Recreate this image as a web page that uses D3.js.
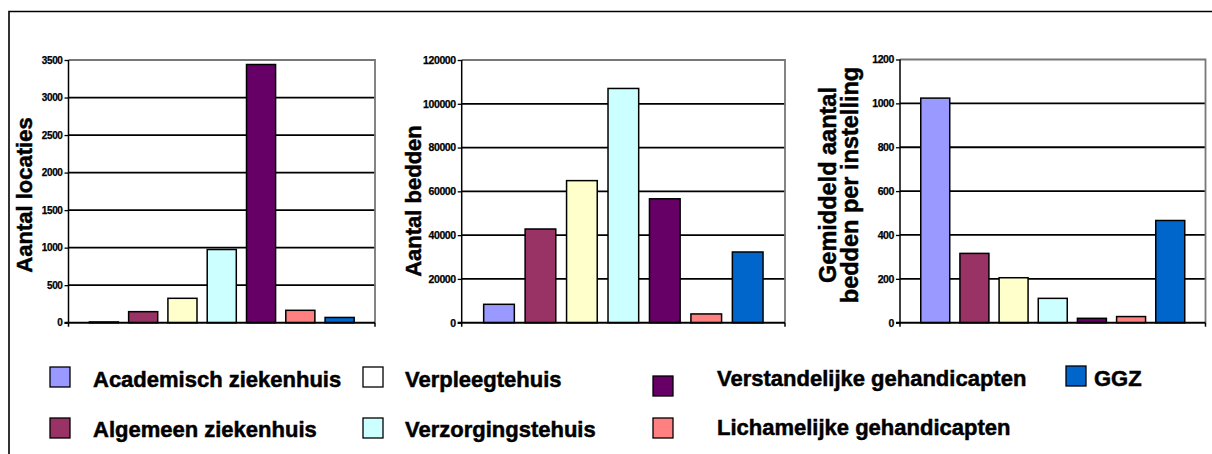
<!DOCTYPE html>
<html>
<head>
<meta charset="utf-8">
<script src="https://cdn.jsdelivr.net/npm/d3@7"></script>
<style>
  html, body { margin: 0; padding: 0; background: #fff; }
  svg { display: block; }
  text { font-family: "Liberation Sans", Arial, sans-serif; font-weight: bold; fill: #000; }
</style>
</head>
<body>
<svg id="chart" width="1212" height="454"></svg>
<script>
// ---- data ----
const categories = [
  "Academisch ziekenhuis",
  "Algemeen ziekenhuis",
  "Verpleegtehuis",
  "Verzorgingstehuis",
  "Verstandelijke gehandicapten",
  "Lichamelijke gehandicapten",
  "GGZ"
];
const colors = ["#9999FF", "#993366", "#FFFFCC", "#CCFFFF", "#660066", "#FF8080", "#0066CC"];
const legendColors = ["#9999FF", "#993366", "#FFFFFF", "#CCFFFF", "#660066", "#FF8080", "#0066CC"];

const aantalLocaties = [10, 147, 325, 975, 3440, 165, 70];
const aantalBedden = [8400, 42800, 64900, 107000, 56600, 4000, 32300];
const gemiddeldBedden = [1024, 316, 205, 111, 20, 28, 466];

const ticksLocaties = [0, 500, 1000, 1500, 2000, 2500, 3000, 3500];
const ticksBedden = [0, 20000, 40000, 60000, 80000, 100000, 120000];
const ticksGemiddeld = [0, 200, 400, 600, 800, 1000, 1200];

const titleLocaties = ["Aantal locaties"];
const titleBedden = ["Aantal bedden"];
const titleGemiddeld = ["Gemiddeld aantal", "bedden per instelling"];

// ---- drawing ----
const svg = d3.select("#chart");

// outer frame
svg.append("path")
  .attr("d", "M9,460 L9,11.5 L1215,11.5")
  .attr("fill", "none").attr("stroke", "#000").attr("stroke-width", 1.6);

const panels = [
  { values: aantalLocaties, ticks: ticksLocaties, title: titleLocaties,
    x0: 68.5, x1: 375, yTop: 60, yBot: 322.7, tickFont: 10, titleFont: 22, titleX: 32, titleY: 195, lineGap: 0 },
  { values: aantalBedden, ticks: ticksBedden, title: titleBedden,
    x0: 461.7, x1: 785, yTop: 60, yBot: 322.7, tickFont: 10.5, titleFont: 22, titleX: 421, titleY: 201, lineGap: 0 },
  { values: gemiddeldBedden, ticks: ticksGemiddeld, title: titleGemiddeld,
    x0: 900, x1: 1205.5, yTop: 59.5, yBot: 322.7, tickFont: 10.5, titleFont: 23.5, titleX: 858, titleY: 185, lineGap: 22 }
];

panels.forEach(p => {
  const g = svg.append("g");
  const y = d3.scaleLinear()
    .domain([0, d3.max(p.ticks)])
    .range([p.yBot, p.yTop]);
  const x = d3.scaleBand()
    .domain(categories)
    .range([p.x0, p.x1])
    .paddingInner(0.26)
    .paddingOuter(0.53);

  // gridlines (black) for inner ticks
  g.selectAll("line.grid")
    .data(p.ticks.slice(1, -1))
    .join("line")
    .attr("class", "grid")
    .attr("x1", p.x0).attr("x2", p.x1)
    .attr("y1", d => y(d)).attr("y2", d => y(d))
    .attr("stroke", "#000").attr("stroke-width", 1.8);

  // plot area border top and right (gray)
  g.append("path")
    .attr("d", `M${p.x0},${y(d3.max(p.ticks))} L${p.x1},${y(d3.max(p.ticks))} L${p.x1},${p.yBot}`)
    .attr("fill", "none").attr("stroke", "#777").attr("stroke-width", 1.8);

  // bars
  g.selectAll("rect.bar")
    .data(p.values)
    .join("rect")
    .attr("class", "bar")
    .attr("x", (d, i) => x(categories[i]))
    .attr("width", x.bandwidth())
    .attr("y", d => y(d))
    .attr("height", d => Math.max(0, y(0) - y(d)))
    .attr("fill", (d, i) => colors[i])
    .attr("stroke", "#000").attr("stroke-width", 1.5);

  // y axis
  const yAxis = d3.axisLeft(y)
    .tickValues(p.ticks)
    .tickSize(4)
    .tickPadding(2)
    .tickFormat(d3.format("d"));
  const ga = g.append("g")
    .attr("transform", `translate(${p.x0},0)`)
    .call(yAxis);
  ga.select(".domain").remove();
  ga.selectAll(".tick line").attr("stroke", "#000").attr("stroke-width", 1.3);
  ga.selectAll(".tick text")
    .attr("font-size", p.tickFont)
    .attr("font-weight", "bold")
    .attr("font-family", "'Liberation Sans', Arial, sans-serif")
    .attr("letter-spacing", "-0.4px")
    .attr("fill", "#000")
    .attr("stroke", "#000").attr("stroke-width", 0.25);
  g.append("line")
    .attr("x1", p.x0).attr("x2", p.x0)
    .attr("y1", p.yTop).attr("y2", p.yBot + 4)
    .attr("stroke", "#000").attr("stroke-width", 1.5);

  // x axis baseline with end ticks
  g.append("line")
    .attr("x1", p.x0 - 4).attr("x2", p.x1)
    .attr("y1", p.yBot).attr("y2", p.yBot)
    .attr("stroke", "#000").attr("stroke-width", 2);
  g.append("line")
    .attr("x1", p.x1).attr("x2", p.x1)
    .attr("y1", p.yBot).attr("y2", p.yBot + 4)
    .attr("stroke", "#000").attr("stroke-width", 1.5);

  // rotated title
  const n = p.title.length;
  p.title.forEach((t, i) => {
    const bx = p.titleX - (n - 1 - i) * p.lineGap;
    g.append("text")
      .attr("transform", `translate(${bx},${p.titleY}) rotate(-90)`)
      .attr("text-anchor", "middle")
      .attr("font-size", p.titleFont)
      .attr("stroke", "#000").attr("stroke-width", 0.5)
      .text(t);
  });
});

// legend
const legendLayout = [
  { sx: 50, sy: 367, tx: 93, ty: 387 },
  { sx: 50, sy: 418, tx: 93, ty: 437 },
  { sx: 363, sy: 367, tx: 405, ty: 387 },
  { sx: 363, sy: 418, tx: 405, ty: 437 },
  { sx: 653, sy: 376, tx: 717, ty: 386 },
  { sx: 653, sy: 418, tx: 717, ty: 435 },
  { sx: 1066, sy: 366, tx: 1094, ty: 386 }
];
const lg = svg.append("g");
lg.selectAll("rect")
  .data(categories)
  .join("rect")
  .attr("x", (d, i) => legendLayout[i].sx)
  .attr("y", (d, i) => legendLayout[i].sy)
  .attr("width", 20).attr("height", 20)
  .attr("fill", (d, i) => legendColors[i])
  .attr("stroke", "#000").attr("stroke-width", 1.3);
lg.selectAll("text")
  .data(categories)
  .join("text")
  .attr("x", (d, i) => legendLayout[i].tx)
  .attr("y", (d, i) => legendLayout[i].ty)
  .attr("font-size", 22)
  .attr("stroke", "#000").attr("stroke-width", 0.5)
  .text(d => d);
</script>
</body>
</html>
